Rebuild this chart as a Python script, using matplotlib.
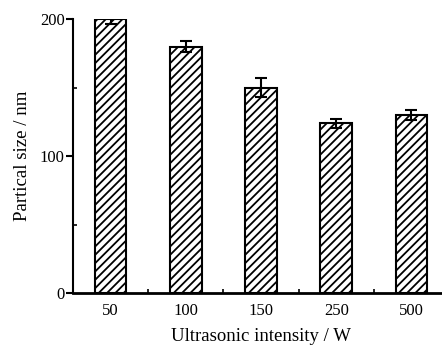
import matplotlib
matplotlib.use("Agg")
import matplotlib.pyplot as plt
from matplotlib.ticker import MultipleLocator, FixedLocator

categories = ["50", "100", "150", "250", "500"]
sizes = [200, 180, 150, 124, 130]
errors = [3, 4, 7, 3.5, 3.5]

plt.rcParams['font.family'] = ['Liberation Serif', 'DejaVu Serif']
plt.rcParams['hatch.linewidth'] = 1.3

fig = plt.figure(figsize=(4.42, 3.46), dpi=100)
ax = fig.add_axes([73/442, (346-293)/346, (449-73)/442, (293-19.5)/346])

x = list(range(len(categories)))
ax.bar(x, sizes, width=0.42, color='white', edgecolor='black', linewidth=1.5,
       hatch='////', zorder=2)
ax.errorbar(x, sizes, yerr=errors, fmt='none', ecolor='black', elinewidth=1.5,
            capsize=4, capthick=1.5, zorder=3)

ax.set_xlim(-0.5, 4.5)
ax.set_ylim(0, 200)
ax.set_xticks(x)
ax.set_xticklabels(categories)
ax.xaxis.set_minor_locator(FixedLocator([0.5, 1.5, 2.5, 3.5]))
ax.set_yticks([0, 100, 200])
ax.yaxis.set_minor_locator(MultipleLocator(50))

ax.tick_params(axis='x', which='major', direction='in', length=3, width=1.2,
               labelsize=12, pad=7)
ax.tick_params(axis='x', which='minor', direction='in', length=3, width=1.2)
ax.tick_params(axis='y', which='major', direction='out', length=5, width=1.5,
               labelsize=12, pad=1)
ax.tick_params(axis='y', which='minor', direction='in', length=3, width=1.2)

for s in ['top', 'right']:
    ax.spines[s].set_visible(False)
ax.spines['left'].set_linewidth(1.5)
ax.spines['bottom'].set_linewidth(2)

ax.set_xlabel("Ultrasonic intensity / W", fontsize=13.5, labelpad=6.5)
ax.set_ylabel("Partical size / nm", fontsize=13.5, labelpad=6)

fig.savefig("out.png", dpi=100)
